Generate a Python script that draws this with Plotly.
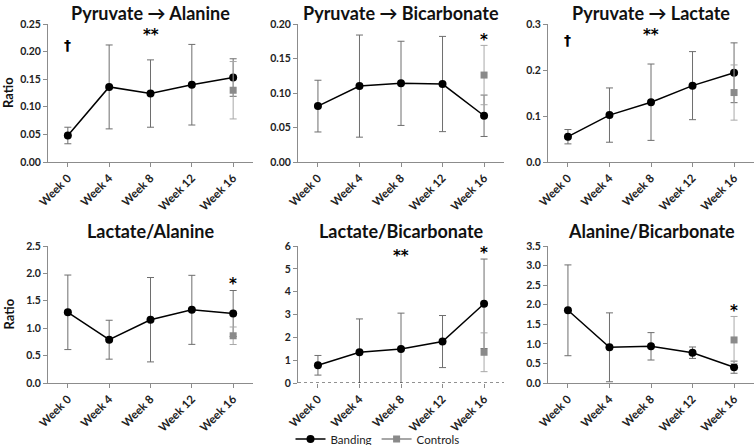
import plotly.graph_objects as go

W, H = 755, 445

weeks = ["Week 0", "Week 4", "Week 8", "Week 12", "Week 16"]

titles = ["Pyruvate \u2192 Alanine", "Pyruvate \u2192 Bicarbonate", "Pyruvate \u2192 Lactate",
          "Lactate/Alanine", "Lactate/Bicarbonate", "Alanine/Bicarbonate"]

pa_mean = [0.048, 0.136, 0.124, 0.140, 0.153]
pa_sd = [0.015, 0.076, 0.061, 0.073, 0.034]
pb_mean = [0.081, 0.110, 0.114, 0.113, 0.067]
pb_sd = [0.0375, 0.074, 0.061, 0.069, 0.030]
pl_mean = [0.055, 0.102, 0.130, 0.166, 0.194]
pl_sd = [0.0156, 0.059, 0.083, 0.074, 0.065]
la_mean = [1.29, 0.79, 1.155, 1.335, 1.268]
la_sd = [0.68, 0.355, 0.77, 0.63, 0.42]
lb_mean = [0.776, 1.346, 1.49, 1.815, 3.468]
lb_sd = [0.43, 1.46, 1.57, 1.14, 1.96]
ab_mean = [1.857, 0.912, 0.937, 0.774, 0.404]
ab_sd = [1.16, 0.88, 0.35, 0.146, 0.155]

ctrl_mean = [0.130, 0.126, 0.151, 0.862, 1.346, 1.10]
ctrl_sd = [0.052, 0.043, 0.060, 0.16, 0.85, 0.60]

y_max = [0.25, 0.20, 0.3, 2.5, 6, 3.5]
y_dtick = [0.05, 0.05, 0.1, 0.5, 1, 0.5]
y_fmt = [".2f", ".2f", ".1f", ".1f", "d", ".1f"]

# significance marks: (panel, week index, symbol, y value)
sig_marks = [
    (0, 0, "\u2020", 0.212), (0, 2, "**", 0.237),
    (1, 4, "*", 0.183),
    (2, 0, "\u2020", 0.265), (2, 2, "**", 0.285),
    (3, 4, "*", 1.88),
    (4, 2, "**", 5.74), (4, 4, "*", 5.87),
    (5, 4, "*", 1.94),
]

means = [pa_mean, pb_mean, pl_mean, la_mean, lb_mean, ab_mean]
sds = [pa_sd, pb_sd, pl_sd, la_sd, lb_sd, ab_sd]

# pixel layout
x_px = [(48, 253), (298, 504), (548, 754)]
y_px = [(24, 162), (246, 383)]
title_top_px = [0, 218]

FONT = "Lato"
AXC = "#8c8c8c"

fig = go.Figure()
layout = dict(
    width=W, height=H, margin=dict(l=0, r=0, t=0, b=0, autoexpand=False),
    paper_bgcolor="white", plot_bgcolor="white",
    showlegend=True,
    legend=dict(orientation="h", x=0.5, xanchor="center", y=1 - 439 / H, yanchor="middle",
                font=dict(family=FONT, size=11.5, color="#222"),
                bgcolor="rgba(0,0,0,0)", tracegroupgap=0),
    font=dict(family=FONT),
)
annotations = []
shapes = []
xs = list(range(5))

for i in range(6):
    r, c = divmod(i, 3)
    ax = "" if i == 0 else str(i + 1)
    xa, ya = "x" + ax, "y" + ax
    x0, x1 = x_px[c]
    yt, yb = y_px[r]
    layout["xaxis" + ax] = dict(
        domain=[x0 / W, x1 / W], anchor=ya, range=[-0.48, 4.48], automargin=False,
        tickvals=xs, ticktext=weeks, tickangle=-45,
        showline=(i != 4), linecolor=AXC, linewidth=1,
        ticks="outside", ticklen=4, tickcolor=AXC, showgrid=False, zeroline=False,
        tickfont=dict(family=FONT, size=11.5, color="#222", weight="bold"),
    )
    layout["yaxis" + ax] = dict(
        domain=[1 - yb / H, 1 - yt / H], anchor=xa, range=[0, y_max[i]], automargin=False,
        dtick=y_dtick[i], tick0=0, tickformat=y_fmt[i],
        showline=True, linecolor=AXC, linewidth=1,
        ticks="outside", ticklen=4, tickcolor=AXC, showgrid=False, zeroline=False,
        tickfont=dict(family=FONT, size=10.5, color="#222", weight="bold"),
    )
    fig.add_trace(go.Scatter(
        x=xs, y=means[i], mode="lines+markers", name="Banding",
        line=dict(color="black", width=1.5),
        marker=dict(color="black", size=8, symbol="circle"),
        error_y=dict(type="data", array=sds[i], visible=True, color="#6e6e6e",
                     thickness=1, width=3.5),
        xaxis=xa, yaxis=ya, showlegend=(i == 0), legendrank=1,
    ))
    fig.add_trace(go.Scatter(
        x=[4], y=[ctrl_mean[i]], mode="lines+markers", name="Controls",
        line=dict(color="#8a8a8a", width=1.5),
        marker=dict(color="#8a8a8a", size=7, symbol="square"),
        error_y=dict(type="data", array=[ctrl_sd[i]], visible=True, color="#a8a8a8",
                     thickness=1, width=3.5),
        xaxis=xa, yaxis=ya, showlegend=(i == 0), legendrank=2,
    ))
    # title
    annotations.append(dict(
        text=titles[i], xref="paper", yref="paper",
        x=(x0 + x1) / 2 / W, y=1 - title_top_px[r] / H, xanchor="center", yanchor="top",
        showarrow=False, font=dict(family=FONT, size=18, color="#111", weight="bold"),
    ))

# dotted baseline for panel 5
shapes.append(dict(type="line", xref="x5 domain", yref="y5", x0=0, x1=1, y0=0, y1=0,
                   line=dict(color="#222", width=1, dash="dot")))

# Ratio labels
for r in range(2):
    yt, yb = y_px[r]
    annotations.append(dict(
        text="Ratio", xref="paper", yref="paper", x=8 / W, y=1 - (yt + yb) / 2 / H,
        textangle=-90, xanchor="center", yanchor="middle", showarrow=False,
        font=dict(family=FONT, size=13, color="#111", weight="bold"),
    ))

for p, wi, sym, yv in sig_marks:
    ax = "" if p == 0 else str(p + 1)
    annotations.append(dict(
        text=sym, xref="x" + ax, yref="y" + ax, x=wi, y=yv,
        xanchor="center", yanchor="middle", showarrow=False,
        yshift=(-4 if "*" in sym else 0),
        font=dict(family="DejaVu Sans", size=(15 if "*" in sym else 14), color="#000000",
                  weight="bold"),
    ))

layout["annotations"] = annotations
layout["shapes"] = shapes
fig.update_layout(**layout)
fig.write_html("out.html", config={"displayModeBar": False},
               post_script="document.body.style.margin='0';document.body.style.overflow='hidden';")
